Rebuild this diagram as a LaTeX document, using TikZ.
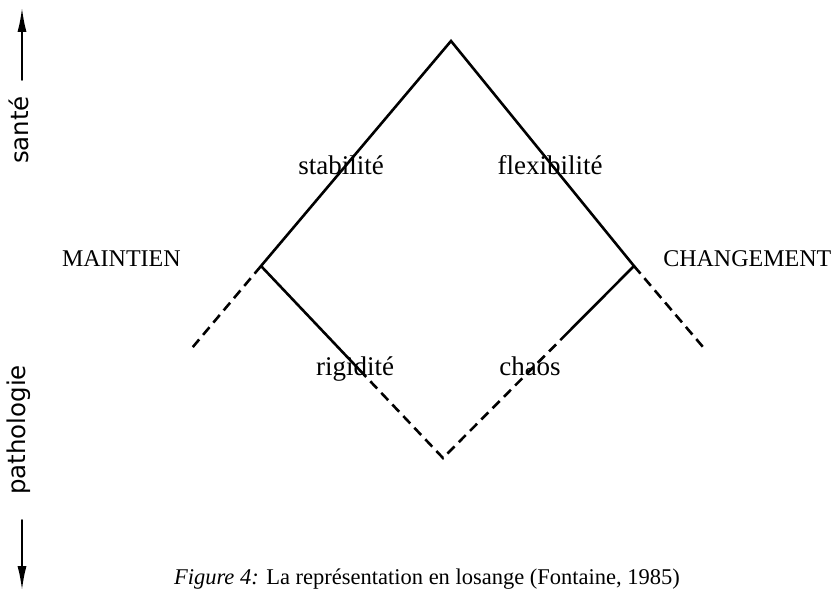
\documentclass[tikz,border=0pt]{standalone}
\usepackage{fontspec}
\setmainfont{Liberation Serif}
\newfontfamily\axisfont{DejaVu Sans}
\usetikzlibrary{arrows.meta, positioning, calc}
\def\losangewidth{2.6pt}

\begin{document}
\begin{tikzpicture}[x=1pt, y=-1pt, line width=\losangewidth, line cap=round]
    \tikzstyle{edge solid}=[draw=black]
    \tikzstyle{edge dashed}=[draw=black, dash pattern=on 10pt off 6pt, line cap=butt]
    \tikzstyle{word}=[inner sep=0pt, anchor=base, font=\fontsize{27}{31}\selectfont]
    \tikzstyle{pole}=[word, font=\fontsize{24}{28}\selectfont]
    \tikzstyle{axis word}=[inner sep=0pt, rotate=90, font=\axisfont\fontsize{24.5}{28}\selectfont]
    \tikzstyle{axis arrow}=[-{Latex[length=24pt, width=9pt]}, line width=1.6pt]

    \useasboundingbox (0,0) rectangle (835,591);

    % Corners of the losange
    \coordinate (top) at (451,41);
    \coordinate (left) at (261,266);
    \coordinate (right) at (634,266);
    \coordinate (bottom) at (443,458);
    \coordinate (ldash) at (192,348);
    \coordinate (rdash) at (703,347);
    \coordinate (lmid) at ($(left)!0.54!(bottom)$);
    \coordinate (rmid) at ($(right)!0.38!(bottom)$);

    % Draw the upper (solid) half
    \draw[edge solid] (left) -- (top) -- (right);
    \draw[edge solid] (left) -- (lmid);
    \draw[edge solid] (right) -- (rmid);

    % Draw the lower (dashed) half
    \draw[edge dashed] (lmid) -- (bottom) -- (rmid);
    \foreach \corner/\tail in {left/ldash, right/rdash}
        \draw[edge dashed] (\corner) -- (\tail);

    % Annotate the sides
    \node[word] (stab) at (341,175) {stabilité};
    \node[word] (flex) at (550,175) {flexibilité};
    \node[word] (rigi) at (355,375) {rigidité};
    \node[word] (chaos) at (530,375) {chaos};
    \node[pole, anchor=base east] (maint) at (182,266) {MAINTIEN};
    \node[pole, anchor=base west] (chang) at (662,266) {CHANGEMENT};

    % Vertical axis on the left
    \node[axis word] (sante) at (19,130) {santé};
    \node[axis word] (patho) at (19,430) {pathologie};
    \coordinate (up-tail) at (22,80);
    \coordinate (up-tip) at (22,8);
    \coordinate (down-tail) at (22,520);
    \coordinate (down-tip) at (22,590);
    \draw[axis arrow] (up-tail) -- (up-tip);
    \draw[axis arrow] (down-tail) -- (down-tip);

    % Caption
    \node[inner sep=0pt, anchor=base, font=\fontsize{22.5}{26}\selectfont] (caption) at (427,584)
        {\textit{Figure 4:} La représentation en losange (Fontaine, 1985)};

\end{tikzpicture}
\end{document}
